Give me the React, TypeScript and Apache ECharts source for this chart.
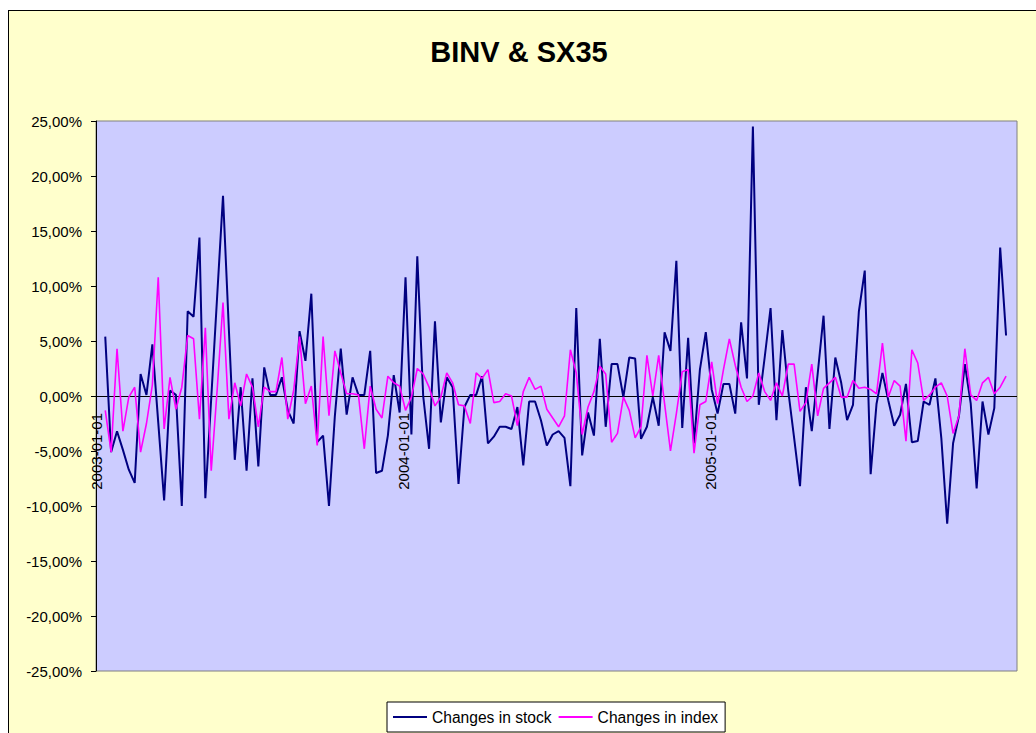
import React, { useEffect, useRef } from "react";
import * as echarts from "echarts";

// Weekly observations: first one on day 11 after 2003-01-01, one week apart
const firstDay = 11;
const weekStep = 7;

const stockChanges = [
  5.4, -5.1, -3.2, -4.9, -6.7, -7.9, 2.0, 0.1, 4.7, -2.4,
  -9.5, 0.5, 0.1, -10.0, 7.7, 7.2, 14.4, -9.3, -0.2, 9.0,
  18.2, 6.0, -5.8, 0.8, -6.8, 1.6, -6.4, 2.6, 0.1, 0.1,
  1.7, -1.3, -2.5, 5.9, 3.2, 9.3, -4.2, -3.6, -10.0, -1.8,
  4.3, -1.7, 1.7, 0.1, 0.1, 4.1, -7.0, -6.8, -3.6, 1.9,
  -1.5, 10.8, -3.5, 12.7, 0.0, -4.8, 6.8, -2.4, 1.7, 0.8,
  -8.0, -1.0, 0.1, 0.1, 1.8, -4.3, -3.7, -2.8, -2.8, -3.0,
  -1.0, -6.3, -0.5, -0.5, -2.2, -4.5, -3.5, -3.2, -3.8, -8.2,
  8.0, -5.4, -1.5, -3.6, 5.2, -2.8, 2.9, 2.9, -0.1, 3.5,
  3.4, -3.9, -2.8, -0.1, -2.7, 5.8, 4.1, 12.3, -2.9, 5.3,
  -4.3, 2.4, 5.8, 0.6, -1.6, 1.1, 1.1, -1.6, 6.7, 1.6,
  24.5, -0.8, 3.5, 8.0, -2.2, 6.0, 0.5, -3.8, -8.2, 0.8,
  -3.2, 2.0, 7.3, -3.0, 3.5, 1.2, -2.2, -0.8, 7.7, 11.4,
  -7.1, -0.7, 2.1, -0.4, -2.7, -1.7, 1.1, -4.2, -4.1, -0.5,
  -0.8, 1.6, -3.8, -11.6, -4.3, -1.8, 2.9, -0.7, -8.4, -0.5,
  -3.5, -1.1, 13.5, 5.5,
];

const indexChanges = [
  -1.3, -5.1, 4.3, -3.2, -0.1, 0.8, -5.1, -2.5, 1.0, 10.8,
  -3.0, 1.7, -1.2, 0.8, 5.5, 5.2, -2.1, 6.2, -6.8, 0.5,
  8.5, -2.1, 1.2, -0.9, 2.0, 0.8, -2.8, 0.8, 0.4, 0.4,
  3.5, -2.1, 0.5, 5.4, -0.7, 0.9, -4.5, 5.4, -1.8, 4.1,
  2.1, 0.2, 0.2, 0.1, -4.8, 0.9, -1.2, -2.0, 1.8, 1.2,
  0.9, -1.3, -0.1, 2.5, 2.0, 0.8, -0.9, -0.1, 2.1, 1.2,
  -0.8, -0.9, -2.5, 2.1, 1.6, 2.4, -0.6, -0.5, 0.2, 0.0,
  -2.7, 0.4, 1.7, 0.6, 0.9, -1.2, -2.0, -2.8, -1.8, 4.2,
  2.1, -3.5, -1.0, 0.4, 2.7, 2.0, -4.2, -3.4, -0.1, -1.3,
  -3.8, -2.8, 3.7, 0.0, 3.7, -0.7, -5.0, -1.6, 2.2, 2.4,
  -5.2, -0.8, -0.5, 3.1, -0.7, 2.4, 5.2, 2.8, 0.8, -0.5,
  0.0, 2.1, 0.4, -0.4, 1.2, 0.0, 2.9, 2.9, -1.4, -0.6,
  2.9, -1.8, 0.7, 1.2, 1.7, -0.1, -0.1, 1.4, 0.7, 0.8,
  0.6, 0.2, 4.8, -0.1, 1.4, 0.9, -4.1, 4.2, 3.0, -0.4,
  0.1, 0.8, 1.2, 0.0, -3.4, -1.8, 4.3, 0.1, -0.4, 1.2,
  1.7, 0.2, 0.8, 1.8,
];

const yearLabels = ["2003-01-01", "2004-01-01", "2005-01-01"];
const seriesNames = ["Changes in stock", "Changes in index"];
const titleText = "BINV & SX35";

const FONT = '"Liberation Sans", Arial, sans-serif';

export default function App() {
  const ref = useRef<HTMLDivElement>(null);

  useEffect(() => {
    if (!ref.current) return;
    const chart = echarts.init(ref.current, undefined, { renderer: "svg" });
    const days = stockChanges.map((_, i) => firstDay + weekStep * i);

    chart.setOption({
      animation: false,
      backgroundColor: "transparent",
      textStyle: { fontFamily: FONT },
      graphic: [
        {
          type: "text",
          x: 511,
          y: 42,
          style: {
            text: titleText,
            font: `bold 29px ${FONT}`,
            fill: "#000",
            align: "center",
            verticalAlign: "middle",
          },
        },
      ],
      legend: {
        data: seriesNames,
        left: 379,
        top: 692,
        orient: "horizontal",
        icon: "rect",
        itemWidth: 34,
        itemHeight: 2,
        itemGap: 7,
        padding: [7, 7, 7, 6],
        backgroundColor: "#ffffff",
        borderColor: "#000000",
        borderWidth: 1,
        textStyle: { fontSize: 15.6, color: "#000", fontFamily: FONT, lineHeight: 16 },
      },
      grid: {
        left: 88,
        top: 111,
        width: 921,
        height: 550,
        show: true,
        backgroundColor: "#CCCCFF",
        borderColor: "#808080",
        borderWidth: 1,
        containLabel: false,
        outerBoundsMode: "none",
      },
      xAxis: {
        type: "value",
        min: 0,
        max: 1095,
        interval: 365,
        axisLine: { show: false, onZero: false },
        axisTick: { show: false },
        splitLine: { show: false },
        axisLabel: {
          rotate: 90,
          margin: -258,
          fontSize: 15,
          color: "#000",
          fontFamily: FONT,
          formatter: (v: number) => yearLabels[Math.round(v / 365)] ?? "",
        },
      },
      yAxis: {
        type: "value",
        min: -25,
        max: 25,
        interval: 5,
        axisLine: { show: true, onZero: false, lineStyle: { color: "#000", width: 1 } },
        axisTick: { show: true, length: 5, lineStyle: { color: "#000" } },
        splitLine: { show: false },
        axisLabel: {
          margin: 14,
          fontSize: 15,
          color: "#000",
          fontFamily: FONT,
          formatter: (v: number) => v.toFixed(2).replace(".", ",") + "%",
        },
      },
      series: [
        {
          name: seriesNames[0],
          type: "line",
          symbol: "none",
          data: days.map((d, i) => [d, stockChanges[i]]),
          lineStyle: { color: "#000080", width: 2 },
          itemStyle: { color: "#000080" },
          markLine: {
            silent: true,
            symbol: "none",
            label: { show: false },
            lineStyle: { color: "#000", width: 1, type: "solid" },
            data: [{ yAxis: 0 }],
            z: 1,
          },
        },
        {
          name: seriesNames[1],
          type: "line",
          symbol: "none",
          data: days.map((d, i) => [d, indexChanges[i]]),
          lineStyle: { color: "#FF00FF", width: 1.6 },
          itemStyle: { color: "#FF00FF" },
        },
      ],
    });

    return () => chart.dispose();
  }, []);

  return (
    <div
      style={{
        position: "fixed",
        left: 8,
        top: 10,
        width: 1028,
        height: 723,
        background: "#FFFFCC",
        boxShadow: "inset 1px 1px 0 #000",
      }}
    >
      <div ref={ref} style={{ width: 1028, height: 723 }} />
    </div>
  );
}
